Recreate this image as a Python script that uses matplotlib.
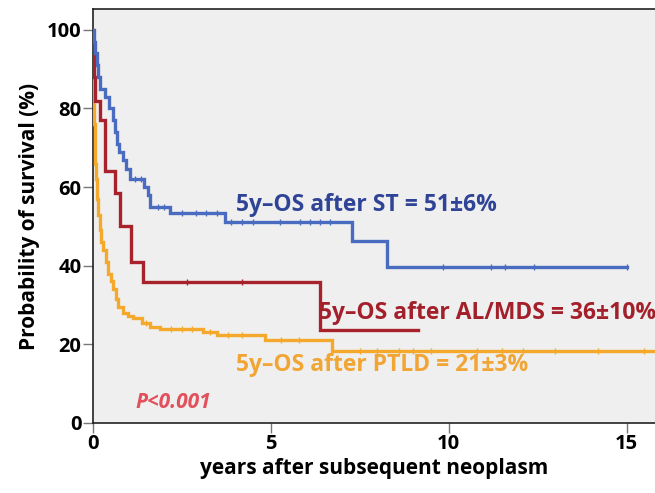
import numpy as np
import matplotlib
matplotlib.use("Agg")
import matplotlib.pyplot as plt

plt.rcParams['font.family'] = ['Open Sans', 'DejaVu Sans']

# Kaplan-Meier step points (years, survival %)
st_t = [0, 0.04, 0.08, 0.12, 0.16, 0.2, 0.34, 0.45, 0.58, 0.62, 0.68, 0.75, 0.86, 0.95, 1.06, 1.45, 1.56, 1.62, 2.18, 3.72, 7.28, 8.26]
st_s = [100, 97, 94, 91, 88, 85, 83, 80, 77, 74, 71, 69, 67, 64.5, 62, 60, 58, 55, 53.4, 51, 46.3, 39.7]
st_end = 15.0
st_cens = [1.2, 1.35, 1.85, 2.0, 2.5, 2.9, 3.2, 3.5, 3.9, 4.2, 4.5, 5.27, 5.83, 6.1, 6.4, 6.67, 9.85, 11.2, 11.6, 12.4, 15.0]

al_t = [0, 0.02, 0.05, 0.08, 0.2, 0.35, 0.63, 0.77, 1.08, 1.42, 6.39]
al_s = [100, 94, 88, 82, 77, 64, 58.5, 50, 41, 35.9, 23.7]
al_end = 9.14
al_cens = [2.65, 4.2]

ptld_t = [0, 0.005, 0.01, 0.015, 0.02, 0.04, 0.06, 0.08, 0.1, 0.13, 0.16, 0.2, 0.25, 0.3, 0.37, 0.44,
          0.51, 0.58, 0.65, 0.72, 0.86, 1.0, 1.14, 1.39, 1.62, 1.9, 3.1, 3.5, 4.85, 6.73]
ptld_s = [100, 95, 90, 85, 81, 76, 71, 66, 62, 57, 53, 49, 46, 44, 41, 38,
          36, 34, 31.5, 29.5, 28, 27.3, 26.6, 25.4, 24.4, 24, 23.2, 22.4, 21, 18.4]
ptld_end = 16.0
ptld_cens = [1.5, 2.2, 2.5, 2.8, 3.3, 3.8, 4.2, 5.3, 5.8, 7.5, 8.0, 8.6, 9.0, 9.5, 10.8, 11.5, 12.1, 13.0, 14.2, 15.5]

labels = ["5y\u2013OS after ST = 51\u00b16%",
          "5y\u2013OS after AL/MDS = 36\u00b110%",
          "5y\u2013OS after PTLD = 21\u00b13%"]

blue = "#4a6cc0"
red = "#a8222c"
orange = "#f4a82c"


def km(ax, t, s, end, cens, color):
    t = np.array(t + [end])
    s = np.array(s + [s[-1]])
    ax.step(t, s, where='post', color=color, lw=2.4, solid_joinstyle='miter', zorder=3)
    idx = np.searchsorted(t, cens, side='right') - 1
    ax.plot(cens, s[idx], ls='none', marker='|', ms=5, mew=1.0, color=color, zorder=4)


fig = plt.figure(figsize=(6.55, 4.93), dpi=100)
ax = fig.add_axes([92.5 / 655, 70 / 493, 1 - 92.5 / 655, 414 / 493])
ax.set_facecolor("#efefef")

km(ax, ptld_t, ptld_s, ptld_end, ptld_cens, orange)
km(ax, al_t, al_s, al_end, al_cens, red)
km(ax, st_t, st_s, st_end, st_cens, blue)

ax.set_xlim(0, 15.8)
ax.set_ylim(0, 105.3)
ax.set_xticks([0, 5, 10, 15])
ax.set_yticks([0, 20, 40, 60, 80, 100])
ax.spines['right'].set_visible(False)
for sp in ['top', 'left', 'bottom']:
    ax.spines[sp].set_color("#222222")
    ax.spines[sp].set_linewidth(1.2)
ax.tick_params(axis='both', direction='out', length=7, width=1, color="#777777",
               labelsize=14.5, pad=1)
for lab in ax.get_xticklabels() + ax.get_yticklabels():
    lab.set_fontweight('bold')

ax.set_xlabel("years after subsequent neoplasm", fontsize=15, fontweight='bold', labelpad=3)
ax.set_ylabel("Probability of survival (%)", fontsize=15, fontweight='bold', labelpad=5)

ax.text(4.03, 55.5, labels[0], color="#2f4497", fontsize=16.5, fontweight='bold', va='center')
ax.text(6.36, 28, labels[1], color="#a3202b", fontsize=16.5, fontweight='bold', va='center')
ax.text(4.03, 14.8, labels[2], color="#f1a534", fontsize=16.5, fontweight='bold', va='center')
ax.text(1.2, 5.1, "P<0.001", color="#e2505c", fontsize=15, fontweight='bold', style='italic', va='center')

fig.savefig("out.png", dpi=100)
